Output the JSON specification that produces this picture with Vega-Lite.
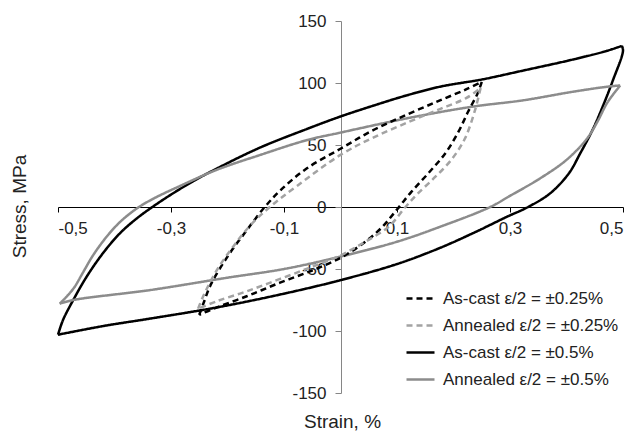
{
  "$schema": "https://vega.github.io/schema/vega-lite/v6.json",
  "width": 565,
  "height": 372,
  "autosize": {"type": "none"},
  "padding": {"left": 58, "top": 21, "right": 13, "bottom": 43},
  "background": "white",
  "config": {
    "view": {"stroke": null},
    "font": "Liberation Sans",
    "axis": {"grid": false, "labelFont": "Liberation Sans", "titleFont": "Liberation Sans", "labelColor": "#222222", "titleColor": "#222222", "titleFontWeight": "normal"}
  },
  "data": {
    "values": [
      {"series": "As-cast ε/2 = ±0.5%", "branch": "load", "i": 1, "strain": -0.5, "stress": -103},
      {"series": "As-cast ε/2 = ±0.5%", "branch": "load", "i": 2, "strain": -0.491, "stress": -91},
      {"series": "As-cast ε/2 = ±0.5%", "branch": "load", "i": 3, "strain": -0.473, "stress": -75},
      {"series": "As-cast ε/2 = ±0.5%", "branch": "load", "i": 4, "strain": -0.449, "stress": -56},
      {"series": "As-cast ε/2 = ±0.5%", "branch": "load", "i": 5, "strain": -0.42, "stress": -37},
      {"series": "As-cast ε/2 = ±0.5%", "branch": "load", "i": 6, "strain": -0.39, "stress": -21},
      {"series": "As-cast ε/2 = ±0.5%", "branch": "load", "i": 7, "strain": -0.36, "stress": -9},
      {"series": "As-cast ε/2 = ±0.5%", "branch": "load", "i": 8, "strain": -0.333, "stress": 0},
      {"series": "As-cast ε/2 = ±0.5%", "branch": "load", "i": 9, "strain": -0.3, "stress": 10},
      {"series": "As-cast ε/2 = ±0.5%", "branch": "load", "i": 10, "strain": -0.26, "stress": 21},
      {"series": "As-cast ε/2 = ±0.5%", "branch": "load", "i": 11, "strain": -0.219, "stress": 31},
      {"series": "As-cast ε/2 = ±0.5%", "branch": "load", "i": 12, "strain": -0.142, "stress": 48},
      {"series": "As-cast ε/2 = ±0.5%", "branch": "load", "i": 13, "strain": -0.059, "stress": 63},
      {"series": "As-cast ε/2 = ±0.5%", "branch": "load", "i": 14, "strain": 0, "stress": 73},
      {"series": "As-cast ε/2 = ±0.5%", "branch": "load", "i": 15, "strain": 0.06, "stress": 82},
      {"series": "As-cast ε/2 = ±0.5%", "branch": "load", "i": 16, "strain": 0.117, "stress": 90},
      {"series": "As-cast ε/2 = ±0.5%", "branch": "load", "i": 17, "strain": 0.176, "stress": 97},
      {"series": "As-cast ε/2 = ±0.5%", "branch": "load", "i": 18, "strain": 0.252, "stress": 103},
      {"series": "As-cast ε/2 = ±0.5%", "branch": "load", "i": 19, "strain": 0.323, "stress": 110},
      {"series": "As-cast ε/2 = ±0.5%", "branch": "load", "i": 20, "strain": 0.412, "stress": 119},
      {"series": "As-cast ε/2 = ±0.5%", "branch": "load", "i": 21, "strain": 0.472, "stress": 126},
      {"series": "As-cast ε/2 = ±0.5%", "branch": "load", "i": 22, "strain": 0.498, "stress": 130},
      {"series": "As-cast ε/2 = ±0.5%", "branch": "unload", "i": 1, "strain": 0.498, "stress": 130},
      {"series": "As-cast ε/2 = ±0.5%", "branch": "unload", "i": 2, "strain": 0.5, "stress": 126},
      {"series": "As-cast ε/2 = ±0.5%", "branch": "unload", "i": 3, "strain": 0.482, "stress": 102},
      {"series": "As-cast ε/2 = ±0.5%", "branch": "unload", "i": 4, "strain": 0.465, "stress": 82},
      {"series": "As-cast ε/2 = ±0.5%", "branch": "unload", "i": 5, "strain": 0.447, "stress": 63},
      {"series": "As-cast ε/2 = ±0.5%", "branch": "unload", "i": 6, "strain": 0.424, "stress": 43},
      {"series": "As-cast ε/2 = ±0.5%", "branch": "unload", "i": 7, "strain": 0.404, "stress": 27},
      {"series": "As-cast ε/2 = ±0.5%", "branch": "unload", "i": 8, "strain": 0.371, "stress": 11},
      {"series": "As-cast ε/2 = ±0.5%", "branch": "unload", "i": 9, "strain": 0.332, "stress": 0},
      {"series": "As-cast ε/2 = ±0.5%", "branch": "unload", "i": 10, "strain": 0.294, "stress": -8},
      {"series": "As-cast ε/2 = ±0.5%", "branch": "unload", "i": 11, "strain": 0.235, "stress": -21},
      {"series": "As-cast ε/2 = ±0.5%", "branch": "unload", "i": 12, "strain": 0.176, "stress": -33},
      {"series": "As-cast ε/2 = ±0.5%", "branch": "unload", "i": 13, "strain": 0.1, "stress": -46},
      {"series": "As-cast ε/2 = ±0.5%", "branch": "unload", "i": 14, "strain": 0, "stress": -59},
      {"series": "As-cast ε/2 = ±0.5%", "branch": "unload", "i": 15, "strain": -0.101, "stress": -70},
      {"series": "As-cast ε/2 = ±0.5%", "branch": "unload", "i": 16, "strain": -0.219, "stress": -81},
      {"series": "As-cast ε/2 = ±0.5%", "branch": "unload", "i": 17, "strain": -0.337, "stress": -90},
      {"series": "As-cast ε/2 = ±0.5%", "branch": "unload", "i": 18, "strain": -0.42, "stress": -96},
      {"series": "As-cast ε/2 = ±0.5%", "branch": "unload", "i": 19, "strain": -0.5, "stress": -103},

      {"series": "Annealed ε/2 = ±0.5%", "branch": "load", "i": 1, "strain": -0.497, "stress": -78},
      {"series": "Annealed ε/2 = ±0.5%", "branch": "load", "i": 2, "strain": -0.473, "stress": -66},
      {"series": "Annealed ε/2 = ±0.5%", "branch": "load", "i": 3, "strain": -0.456, "stress": -53},
      {"series": "Annealed ε/2 = ±0.5%", "branch": "load", "i": 4, "strain": -0.438, "stress": -39},
      {"series": "Annealed ε/2 = ±0.5%", "branch": "load", "i": 5, "strain": -0.414, "stress": -24},
      {"series": "Annealed ε/2 = ±0.5%", "branch": "load", "i": 6, "strain": -0.39, "stress": -12},
      {"series": "Annealed ε/2 = ±0.5%", "branch": "load", "i": 7, "strain": -0.36, "stress": -1},
      {"series": "Annealed ε/2 = ±0.5%", "branch": "load", "i": 8, "strain": -0.33, "stress": 7},
      {"series": "Annealed ε/2 = ±0.5%", "branch": "load", "i": 9, "strain": -0.279, "stress": 18},
      {"series": "Annealed ε/2 = ±0.5%", "branch": "load", "i": 10, "strain": -0.219, "stress": 30},
      {"series": "Annealed ε/2 = ±0.5%", "branch": "load", "i": 11, "strain": -0.142, "stress": 42},
      {"series": "Annealed ε/2 = ±0.5%", "branch": "load", "i": 12, "strain": -0.059, "stress": 54},
      {"series": "Annealed ε/2 = ±0.5%", "branch": "load", "i": 13, "strain": 0, "stress": 60},
      {"series": "Annealed ε/2 = ±0.5%", "branch": "load", "i": 14, "strain": 0.123, "stress": 72},
      {"series": "Annealed ε/2 = ±0.5%", "branch": "load", "i": 15, "strain": 0.235, "stress": 81},
      {"series": "Annealed ε/2 = ±0.5%", "branch": "load", "i": 16, "strain": 0.323, "stress": 86},
      {"series": "Annealed ε/2 = ±0.5%", "branch": "load", "i": 17, "strain": 0.412, "stress": 93},
      {"series": "Annealed ε/2 = ±0.5%", "branch": "load", "i": 18, "strain": 0.472, "stress": 97},
      {"series": "Annealed ε/2 = ±0.5%", "branch": "load", "i": 19, "strain": 0.495, "stress": 98},
      {"series": "Annealed ε/2 = ±0.5%", "branch": "unload", "i": 1, "strain": 0.495, "stress": 98},
      {"series": "Annealed ε/2 = ±0.5%", "branch": "unload", "i": 2, "strain": 0.472, "stress": 84},
      {"series": "Annealed ε/2 = ±0.5%", "branch": "unload", "i": 3, "strain": 0.455, "stress": 69},
      {"series": "Annealed ε/2 = ±0.5%", "branch": "unload", "i": 4, "strain": 0.436, "stress": 55},
      {"series": "Annealed ε/2 = ±0.5%", "branch": "unload", "i": 5, "strain": 0.4, "stress": 38},
      {"series": "Annealed ε/2 = ±0.5%", "branch": "unload", "i": 6, "strain": 0.353, "stress": 23},
      {"series": "Annealed ε/2 = ±0.5%", "branch": "unload", "i": 7, "strain": 0.3, "stress": 9},
      {"series": "Annealed ε/2 = ±0.5%", "branch": "unload", "i": 8, "strain": 0.265, "stress": 0},
      {"series": "Annealed ε/2 = ±0.5%", "branch": "unload", "i": 9, "strain": 0.176, "stress": -16},
      {"series": "Annealed ε/2 = ±0.5%", "branch": "unload", "i": 10, "strain": 0.1, "stress": -28},
      {"series": "Annealed ε/2 = ±0.5%", "branch": "unload", "i": 11, "strain": 0, "stress": -40},
      {"series": "Annealed ε/2 = ±0.5%", "branch": "unload", "i": 12, "strain": -0.1, "stress": -50},
      {"series": "Annealed ε/2 = ±0.5%", "branch": "unload", "i": 13, "strain": -0.2, "stress": -57},
      {"series": "Annealed ε/2 = ±0.5%", "branch": "unload", "i": 14, "strain": -0.337, "stress": -67},
      {"series": "Annealed ε/2 = ±0.5%", "branch": "unload", "i": 15, "strain": -0.473, "stress": -75},
      {"series": "Annealed ε/2 = ±0.5%", "branch": "unload", "i": 16, "strain": -0.497, "stress": -78},

      {"series": "As-cast ε/2 = ±0.25%", "branch": "load", "i": 1, "strain": -0.25, "stress": -87},
      {"series": "As-cast ε/2 = ±0.25%", "branch": "load", "i": 2, "strain": -0.242, "stress": -77},
      {"series": "As-cast ε/2 = ±0.25%", "branch": "load", "i": 3, "strain": -0.229, "stress": -62},
      {"series": "As-cast ε/2 = ±0.25%", "branch": "load", "i": 4, "strain": -0.2, "stress": -40},
      {"series": "As-cast ε/2 = ±0.25%", "branch": "load", "i": 5, "strain": -0.168, "stress": -20},
      {"series": "As-cast ε/2 = ±0.25%", "branch": "load", "i": 6, "strain": -0.134, "stress": 0},
      {"series": "As-cast ε/2 = ±0.25%", "branch": "load", "i": 7, "strain": -0.105, "stress": 14},
      {"series": "As-cast ε/2 = ±0.25%", "branch": "load", "i": 8, "strain": -0.06, "stress": 31},
      {"series": "As-cast ε/2 = ±0.25%", "branch": "load", "i": 9, "strain": 0, "stress": 47},
      {"series": "As-cast ε/2 = ±0.25%", "branch": "load", "i": 10, "strain": 0.058, "stress": 62},
      {"series": "As-cast ε/2 = ±0.25%", "branch": "load", "i": 11, "strain": 0.12, "stress": 75},
      {"series": "As-cast ε/2 = ±0.25%", "branch": "load", "i": 12, "strain": 0.176, "stress": 86},
      {"series": "As-cast ε/2 = ±0.25%", "branch": "load", "i": 13, "strain": 0.223, "stress": 95},
      {"series": "As-cast ε/2 = ±0.25%", "branch": "load", "i": 14, "strain": 0.25, "stress": 101},
      {"series": "As-cast ε/2 = ±0.25%", "branch": "unload", "i": 1, "strain": 0.25, "stress": 101},
      {"series": "As-cast ε/2 = ±0.25%", "branch": "unload", "i": 2, "strain": 0.243, "stress": 92},
      {"series": "As-cast ε/2 = ±0.25%", "branch": "unload", "i": 3, "strain": 0.226, "stress": 77},
      {"series": "As-cast ε/2 = ±0.25%", "branch": "unload", "i": 4, "strain": 0.208, "stress": 60},
      {"series": "As-cast ε/2 = ±0.25%", "branch": "unload", "i": 5, "strain": 0.185, "stress": 43},
      {"series": "As-cast ε/2 = ±0.25%", "branch": "unload", "i": 6, "strain": 0.155, "stress": 27},
      {"series": "As-cast ε/2 = ±0.25%", "branch": "unload", "i": 7, "strain": 0.125, "stress": 12},
      {"series": "As-cast ε/2 = ±0.25%", "branch": "unload", "i": 8, "strain": 0.1, "stress": -2},
      {"series": "As-cast ε/2 = ±0.25%", "branch": "unload", "i": 9, "strain": 0.072, "stress": -17},
      {"series": "As-cast ε/2 = ±0.25%", "branch": "unload", "i": 10, "strain": 0.038, "stress": -30},
      {"series": "As-cast ε/2 = ±0.25%", "branch": "unload", "i": 11, "strain": 0, "stress": -41},
      {"series": "As-cast ε/2 = ±0.25%", "branch": "unload", "i": 12, "strain": -0.049, "stress": -51},
      {"series": "As-cast ε/2 = ±0.25%", "branch": "unload", "i": 13, "strain": -0.107, "stress": -61},
      {"series": "As-cast ε/2 = ±0.25%", "branch": "unload", "i": 14, "strain": -0.166, "stress": -72},
      {"series": "As-cast ε/2 = ±0.25%", "branch": "unload", "i": 15, "strain": -0.225, "stress": -82},
      {"series": "As-cast ε/2 = ±0.25%", "branch": "unload", "i": 16, "strain": -0.25, "stress": -87},

      {"series": "Annealed ε/2 = ±0.25%", "branch": "load", "i": 1, "strain": -0.252, "stress": -82},
      {"series": "Annealed ε/2 = ±0.25%", "branch": "load", "i": 2, "strain": -0.243, "stress": -72},
      {"series": "Annealed ε/2 = ±0.25%", "branch": "load", "i": 3, "strain": -0.219, "stress": -51},
      {"series": "Annealed ε/2 = ±0.25%", "branch": "load", "i": 4, "strain": -0.19, "stress": -32},
      {"series": "Annealed ε/2 = ±0.25%", "branch": "load", "i": 5, "strain": -0.16, "stress": -15},
      {"series": "Annealed ε/2 = ±0.25%", "branch": "load", "i": 6, "strain": -0.125, "stress": 0},
      {"series": "Annealed ε/2 = ±0.25%", "branch": "load", "i": 7, "strain": -0.077, "stress": 17},
      {"series": "Annealed ε/2 = ±0.25%", "branch": "load", "i": 8, "strain": 0, "stress": 42},
      {"series": "Annealed ε/2 = ±0.25%", "branch": "load", "i": 9, "strain": 0.058, "stress": 56},
      {"series": "Annealed ε/2 = ±0.25%", "branch": "load", "i": 10, "strain": 0.123, "stress": 69},
      {"series": "Annealed ε/2 = ±0.25%", "branch": "load", "i": 11, "strain": 0.176, "stress": 79},
      {"series": "Annealed ε/2 = ±0.25%", "branch": "load", "i": 12, "strain": 0.223, "stress": 88},
      {"series": "Annealed ε/2 = ±0.25%", "branch": "load", "i": 13, "strain": 0.248, "stress": 96},
      {"series": "Annealed ε/2 = ±0.25%", "branch": "unload", "i": 1, "strain": 0.248, "stress": 96},
      {"series": "Annealed ε/2 = ±0.25%", "branch": "unload", "i": 2, "strain": 0.238, "stress": 78},
      {"series": "Annealed ε/2 = ±0.25%", "branch": "unload", "i": 3, "strain": 0.22, "stress": 55},
      {"series": "Annealed ε/2 = ±0.25%", "branch": "unload", "i": 4, "strain": 0.196, "stress": 38},
      {"series": "Annealed ε/2 = ±0.25%", "branch": "unload", "i": 5, "strain": 0.167, "stress": 24},
      {"series": "Annealed ε/2 = ±0.25%", "branch": "unload", "i": 6, "strain": 0.135, "stress": 10},
      {"series": "Annealed ε/2 = ±0.25%", "branch": "unload", "i": 7, "strain": 0.115, "stress": 0},
      {"series": "Annealed ε/2 = ±0.25%", "branch": "unload", "i": 8, "strain": 0.085, "stress": -16},
      {"series": "Annealed ε/2 = ±0.25%", "branch": "unload", "i": 9, "strain": 0.04, "stress": -29},
      {"series": "Annealed ε/2 = ±0.25%", "branch": "unload", "i": 10, "strain": 0, "stress": -39},
      {"series": "Annealed ε/2 = ±0.25%", "branch": "unload", "i": 11, "strain": -0.049, "stress": -48},
      {"series": "Annealed ε/2 = ±0.25%", "branch": "unload", "i": 12, "strain": -0.107, "stress": -58},
      {"series": "Annealed ε/2 = ±0.25%", "branch": "unload", "i": 13, "strain": -0.166, "stress": -68},
      {"series": "Annealed ε/2 = ±0.25%", "branch": "unload", "i": 14, "strain": -0.219, "stress": -76},
      {"series": "Annealed ε/2 = ±0.25%", "branch": "unload", "i": 15, "strain": -0.252, "stress": -82}
    ]
  },
  "mark": {"type": "line", "strokeWidth": 2.5, "strokeJoin": "round", "interpolate": "catmull-rom"},
  "encoding": {
    "x": {
      "field": "strain", "type": "quantitative",
      "scale": {"domain": [-0.5, 0.5], "nice": false, "zero": false},
      "axis": {
        "orient": "bottom", "offset": -186,
        "values": [-0.5, -0.3, -0.1, 0.1, 0.3, 0.5],
        "labelExpr": "replace(toString(datum.value), '.', ',')",
        "labelFontSize": 17, "labelPadding": 8,
        "domainColor": "#000000", "domainWidth": 1,
        "tickColor": "#000000", "tickSize": 5, "tickWidth": 1,
        "title": "Strain, %", "titleFontSize": 19,
        "titleX": 284, "titleY": 220, "titleBaseline": "alphabetic", "titleAlign": "center", "titleAnchor": null
      }
    },
    "y": {
      "field": "stress", "type": "quantitative",
      "scale": {"domain": [-150, 150], "nice": false},
      "axis": {
        "orient": "left", "offset": -283,
        "values": [-150, -100, -50, 0, 50, 100, 150],
        "labelExpr": "toString(datum.value)",
        "labelFontSize": 17, "labelPadding": 9,
        "domainColor": "#868686", "domainWidth": 1,
        "tickColor": "#868686", "tickSize": 6, "tickWidth": 1,
        "title": "Stress, MPa", "titleFontSize": 19, "titleAngle": -90,
        "titleX": -316, "titleY": 185, "titleBaseline": "alphabetic", "titleAlign": "center", "titleAnchor": null
      }
    },
    "color": {
      "field": "series", "type": "nominal",
      "scale": {
        "domain": ["As-cast ε/2 = ±0.25%", "Annealed ε/2 = ±0.25%", "As-cast ε/2 = ±0.5%", "Annealed ε/2 = ±0.5%"],
        "range": ["#000000", "#a3a3a3", "#000000", "#8c8c8c"]
      },
      "legend": {
        "title": null, "orient": "none", "legendX": 347, "legendY": 262,
        "symbolType": "stroke", "symbolSize": 784, "symbolStrokeWidth": 2.5,
        "labelFont": "Liberation Sans", "labelFontSize": 17, "labelColor": "#222222",
        "labelOffset": 7, "rowPadding": 3, "padding": 0, "labelLimit": 400
      }
    },
    "strokeDash": {
      "field": "series", "type": "nominal",
      "scale": {
        "domain": ["As-cast ε/2 = ±0.25%", "Annealed ε/2 = ±0.25%", "As-cast ε/2 = ±0.5%", "Annealed ε/2 = ±0.5%"],
        "range": [[6, 4], [6, 4], [1, 0], [1, 0]]
      },
      "legend": null
    },
    "detail": {"field": "branch", "type": "nominal"},
    "order": {"field": "i", "type": "quantitative"}
  }
}
